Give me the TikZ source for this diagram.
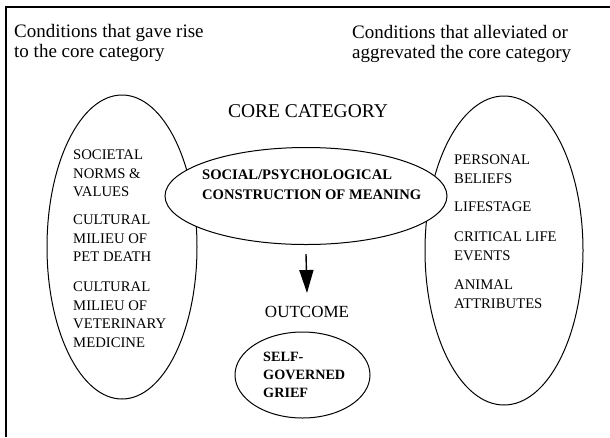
\documentclass[tikz,border=0pt]{standalone}
\usepackage{fontspec}
\setmainfont{Liberation Serif}
\usetikzlibrary{shapes.geometric,arrows.meta}
\begin{document}
\begin{tikzpicture}[x=1pt,y=-1pt,
  oval/.style={draw, ellipse, inner sep=0pt, line width=1pt},
  hdr/.style={anchor=north west, inner sep=0pt, align=left, font=\fontsize{19}{20}\selectfont},
  lst/.style={anchor=north west, inner sep=0pt, align=left, font=\fontsize{14.7}{18.5}\selectfont},
  bld/.style={anchor=north west, inner sep=0pt, align=left, font=\fontsize{14.6}{20}\selectfont\bfseries},
  sgtext/.style={anchor=north west, inner sep=0pt, align=left, font=\fontsize{14.2}{18}\selectfont\bfseries},
  arr/.style={-{Triangle[length=23pt,width=14pt]}, line width=1.4pt},
  frameline/.style={line width=1.5pt}]
\useasboundingbox (0,0) rectangle (610,437);
\coordinate (fbl) at (6,437);
\coordinate (ftl) at (6,7);
\coordinate (ftr) at (610,7);
\draw[frameline] (fbl) -- (ftl) -- (ftr);

\node[hdr] (hl) at (14,24) {Conditions that gave rise\\to the core category};
\node[hdr] (hr) at (352,25) {Conditions that alleviated or\\aggrevated the core category};

\node[anchor=base, inner sep=0pt, font=\fontsize{19.5}{20}\selectfont] (cc) at (308,117) {CORE CATEGORY};

\node[oval, minimum width=150pt, minimum height=304pt] (lo) at (122,247) {};
\node[oval, minimum width=158pt, minimum height=309pt] (ro) at (504,250.5) {};
\node[oval, fill=white, minimum width=282pt, minimum height=97pt] (core) at (306,196) {};
\node[oval, minimum width=135pt, minimum height=86pt] (sg) at (302.5,375) {};

\node[lst] (l1) at (73,150) {SOCIETAL\\NORMS \&\\VALUES};
\node[lst] (l2) at (73,215) {CULTURAL\\MILIEU OF\\PET DEATH};
\node[lst] (l3) at (73,282) {CULTURAL\\MILIEU OF\\VETERINARY\\MEDICINE};

\node[lst] (r1) at (454,155) {PERSONAL\\BELIEFS};
\node[lst] (r2) at (454,202) {LIFESTAGE};
\node[lst] (r3) at (454,232) {CRITICAL LIFE\\EVENTS};
\node[lst] (r4) at (454,280) {ANIMAL\\ATTRIBUTES};

\node[bld] (ct) at (202,170) {SOCIAL/PSYCHOLOGICAL\\CONSTRUCTION OF MEANING};

\node[anchor=base, inner sep=0pt, font=\fontsize{17}{18}\selectfont] (outcome) at (307,317) {OUTCOME};
\node[sgtext] (sgt) at (263,352) {SELF-\\GOVERNED\\GRIEF};

\draw[arr] ([yshift=-9pt]core.south) -- ([yshift=12.5pt]outcome.north);
\end{tikzpicture}
\end{document}
